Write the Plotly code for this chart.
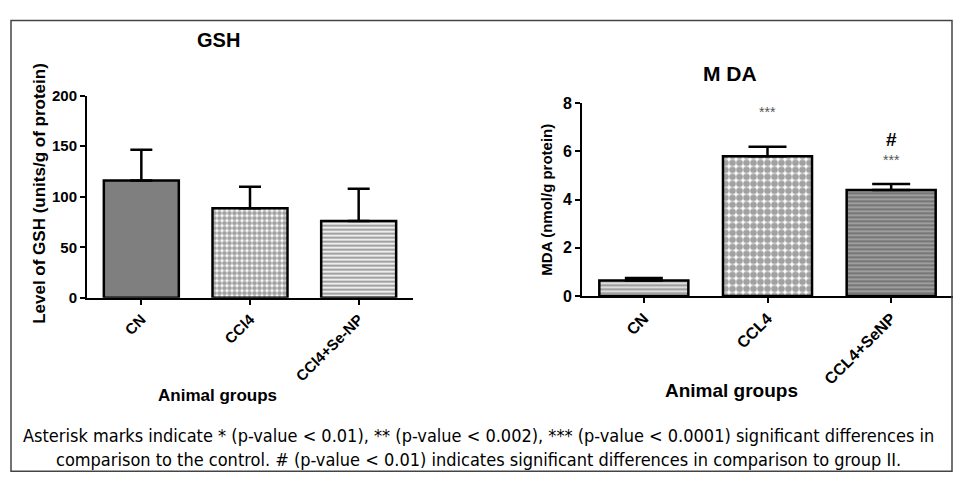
import plotly.graph_objects as go

# ---- data ----
gsh_groups = ["CN", "CCl4", "CCl4+Se-NP"]
gsh_means = [116, 88.5, 76]
gsh_err = [30.5, 21.5, 32]

mda_groups = ["CN", "CCL4", "CCL4+SeNP"]
mda_means = [0.64, 5.8, 4.4]
mda_err = [0.1, 0.4, 0.25]

gsh_ticks = [0, 50, 100, 150, 200]
mda_ticks = [0, 2, 4, 6, 8]

W, H = 953, 484
F = "Liberation Sans, Arial, sans-serif"

fig = go.Figure()

fig.add_trace(go.Bar(
    x=gsh_groups, y=gsh_means, xaxis="x", yaxis="y", width=0.69,
    error_y=dict(type="data", symmetric=False, array=gsh_err, arrayminus=[0, 0, 0],
                 color="black", thickness=2.5, width=11),
    marker=dict(
        color=["#7f7f7f", "white", "#ececec"],
        line=dict(color="black", width=2.5),
        pattern=dict(shape=["", ".", "-"], fgcolor=["#7f7f7f", "black", "#8a8a8a"],
                     size=[6, 5, 4], solidity=[0.5, 0.7, 0.45], fillmode="overlay"),
    ),
    showlegend=False,
))

fig.add_trace(go.Bar(
    x=mda_groups, y=mda_means, xaxis="x2", yaxis="y2", width=0.72,
    error_y=dict(type="data", symmetric=False, array=mda_err, arrayminus=[0, 0, 0],
                 color="black", thickness=2.5, width=19),
    marker=dict(
        color=["#dcdcdc", "white", "#a8a8a8"],
        line=dict(color="black", width=2.5),
        pattern=dict(shape=["-", ".", "-"], fgcolor=["#444444", "black", "black"],
                     size=[4, 7, 4], solidity=[0.4, 0.7, 0.6], fillmode="overlay"),
    ),
    showlegend=False,
))

ax_common = dict(showline=True, linecolor="black", linewidth=2, showgrid=False,
                 zeroline=False, ticks="outside", tickwidth=2, ticklen=5,
                 tickcolor="black")

fig.update_layout(
    width=W, height=H, margin=dict(l=0, r=0, t=0, b=0),
    paper_bgcolor="white", plot_bgcolor="white",
    font=dict(family=F, color="black"),
    bargap=0.3,
    xaxis=dict(domain=[87 / W, 413 / W], anchor="y", range=[-0.5, 2.5],
               tickangle=-45, tickfont=dict(size=15, family=F, weight="bold"),
               **ax_common),
    yaxis=dict(domain=[(H - 300) / H, (H - 90) / H], anchor="x", range=[0, 200],
               tickvals=gsh_ticks, tickfont=dict(size=15, family=F, weight="bold"),
               **ax_common),
    xaxis2=dict(domain=[582 / W, 1.0], anchor="y2", range=[-0.5, 2.5],
                tickangle=-45, tickfont=dict(size=16, family=F, weight="bold"),
                **ax_common),
    yaxis2=dict(domain=[(H - 298) / H, (H - 98) / H], anchor="x2", range=[0, 8],
                tickvals=mda_ticks, tickfont=dict(size=16, family=F, weight="bold"),
                **ax_common),
)

ann = []
def txt(x, y, t, size, bold=True, angle=0, family=F, color="black"):
    ann.append(dict(x=x / W, y=1 - y / H, xref="paper", yref="paper", text=t,
                    showarrow=False, textangle=angle, xanchor="center", yanchor="middle",
                    font=dict(size=size, family=family, color=color,
                              weight="bold" if bold else "normal")))

txt(218, 32, "GSH", 20)
txt(40, 192, "Level of GSH (units/g of protein)", 17, angle=-90)
txt(217, 401, "Animal groups", 17)
txt(730, 67, "M DA", 21)
txt(547, 198, "MDA (nmol/g protein)", 15, angle=-90)
txt(731, 396, "Animal groups", 19)

# significance marks (data coordinates on MDA chart)
ann.append(dict(x=mda_groups[1], y=mda_means[1] + mda_err[1] + 1.45, xref="x2", yref="y2",
                text="***", showarrow=False, font=dict(size=14, color="#555555")))
ann.append(dict(x=mda_groups[2], y=mda_means[2] + mda_err[2] + 1.0, xref="x2", yref="y2",
                text="***", showarrow=False, font=dict(size=14, color="#555555")))
ann.append(dict(x=mda_groups[2], y=mda_means[2] + mda_err[2] + 1.85, xref="x2", yref="y2",
                text="#", showarrow=False, font=dict(size=19, color="black", weight="bold")))

CF = "Liberation Sans Narrow, DejaVu Sans Condensed, sans-serif"
txt(478, 443, "Asterisk marks indicate * (p-value &lt; 0.01), ** (p-value &lt; 0.002), *** (p-value &lt; 0.0001) significant differences in",
    18, bold=False, family=CF)
txt(478, 468, "comparison to the control. # (p-value &lt; 0.01) indicates significant differences in comparison to group II.",
    18, bold=False, family=CF)

fig.update_layout(annotations=ann)
fig.add_shape(type="rect", xref="paper", yref="paper",
              x0=11 / W, x1=952 / W, y0=1 - 480 / H, y1=1 - 12 / H,
              line=dict(color="#444444", width=1.5))

fig.write_html("out.html", config={"displayModeBar": False},
               post_script="document.body.style.margin='0';document.body.style.overflow='hidden';")
